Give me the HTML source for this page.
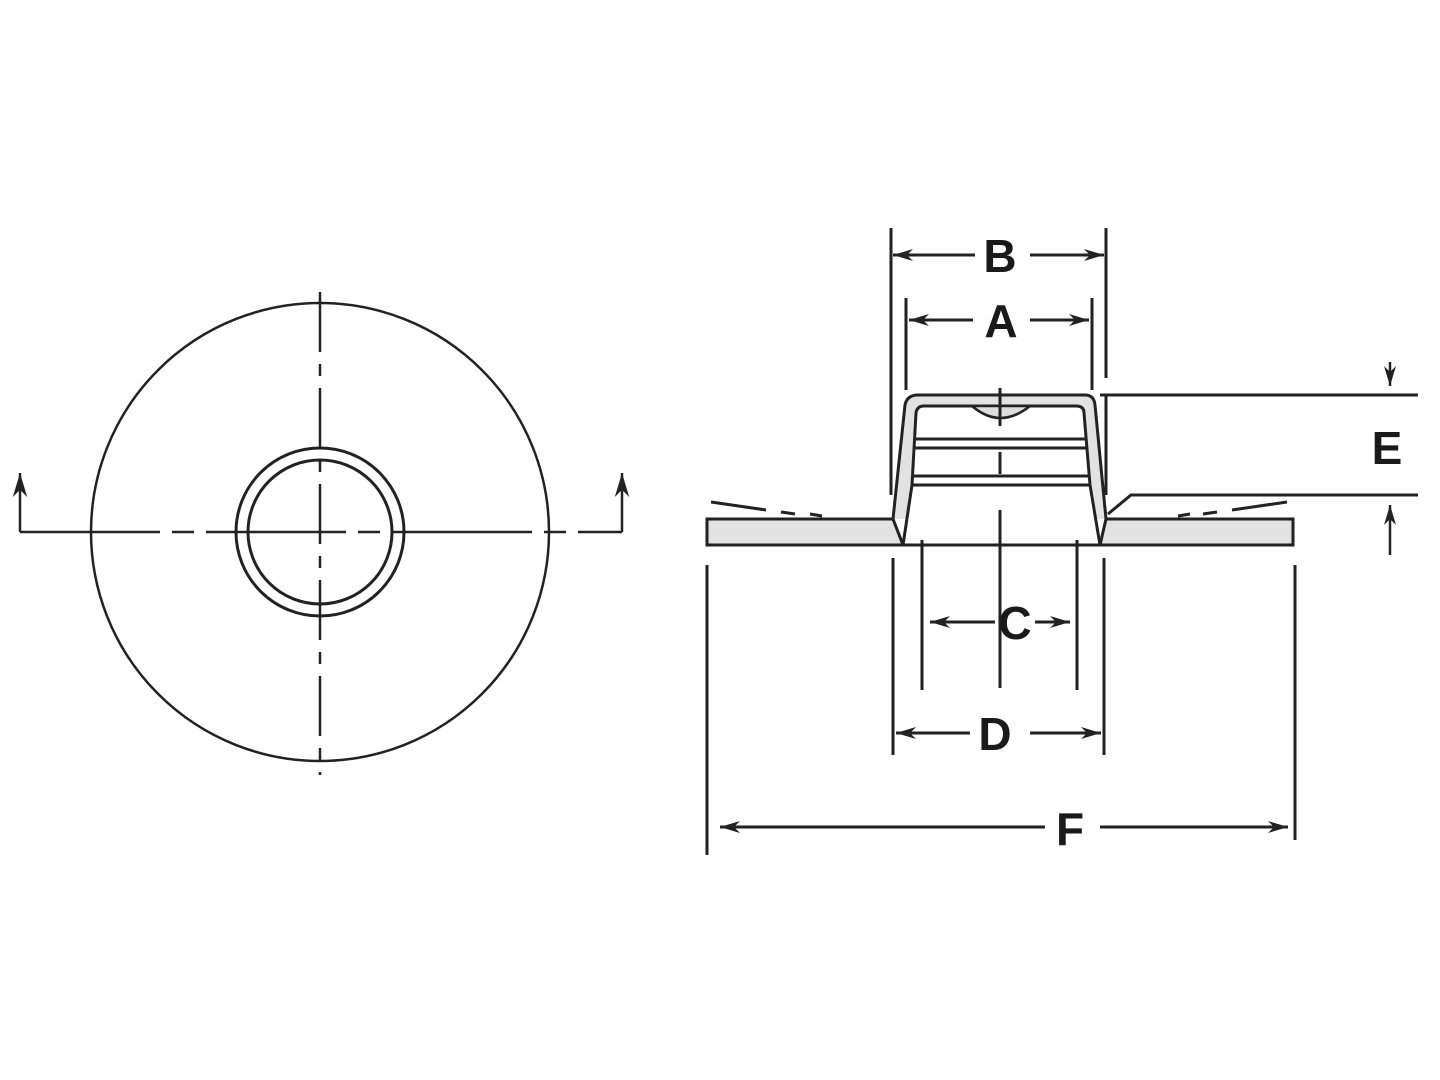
<!DOCTYPE html>
<html><head><style>
html,body{margin:0;padding:0;background:#fff;}
svg{display:block;}
text{font-family:"Liberation Sans",sans-serif;font-weight:bold;font-size:46px;fill:#1a1a1a;}
</style></head><body>
<svg width="1440" height="1080" viewBox="0 0 1440 1080" xmlns="http://www.w3.org/2000/svg">
<defs>
<marker id="ar" viewBox="0 0 10 10" refX="10" refY="5" markerWidth="20" markerHeight="20" orient="auto-start-reverse" markerUnits="userSpaceOnUse">
<path d="M0,2 L10,5 L0,8 L3,5 z" fill="#222"/>
</marker>
<marker id="ar2" viewBox="0 0 10 10" refX="10" refY="5" markerWidth="24" markerHeight="24" orient="auto" markerUnits="userSpaceOnUse">
<path d="M0,2 L10,5 L0,8 L3,5 z" fill="#222"/>
</marker>
</defs>
<g stroke="#222" fill="none" stroke-width="2">
<circle cx="320" cy="532" r="229" stroke-width="2.5"/>
<circle cx="320" cy="532" r="84" stroke-width="3"/>
<circle cx="320" cy="532" r="72" stroke-width="3"/>
<line x1="320" y1="292" x2="320" y2="775" stroke-width="2.5" stroke-dasharray="60,12,12,12"/>
<line x1="20" y1="532" x2="622" y2="532" stroke-width="2.5" stroke-dasharray="140,12,22,12"/>
<line x1="20" y1="532" x2="20" y2="473" stroke-width="2.5" marker-end="url(#ar2)"/>
<line x1="622" y1="532" x2="622" y2="473" stroke-width="2.5" marker-end="url(#ar2)"/>

<path d="M707,519 L893,519 L903,545 L707,545 Z" fill="#e2e2e2" stroke-width="3"/>
<path d="M1106,519 L1293,519 L1293,545 L1100,545 Z" fill="#e2e2e2" stroke-width="3"/>
<path d="M893,519 L905,405 Q907,395 918,395 L1085,395 Q1094,395 1095,405 L1106,519" fill="#e2e2e2" stroke-width="3"/>
<path d="M903,545 L912,485 L916,413 Q917,406 924,406 L1076,406 Q1084,406 1084,413 L1090,485 L1100,545 Z" fill="#fff" stroke-width="3"/>
<path d="M972,406 Q1000,430 1030,406 Z" fill="#ddd" stroke-width="2.5"/>
<line x1="914" y1="439" x2="1086" y2="439" stroke-width="3"/>
<line x1="914" y1="448" x2="1086" y2="448" stroke-width="3"/>
<line x1="912" y1="476" x2="1088" y2="476" stroke-width="3"/>
<line x1="912" y1="485" x2="1090" y2="485" stroke-width="3"/>
<line x1="1000" y1="388" x2="1000" y2="426" stroke-width="3"/>
<line x1="1000" y1="452" x2="1000" y2="474" stroke-width="3"/>
<line x1="1000" y1="510" x2="1000" y2="688" stroke-width="3"/>
<path d="M711,502 L766,510 M781,512 L795,514 M810,514 L822,516" stroke-width="3"/>
<path d="M1287,502 L1232,510 M1217,512 L1203,514 M1190,514 L1178,516" stroke-width="3"/>
<line x1="891" y1="228" x2="891" y2="495" stroke-width="3"/>
<line x1="1106" y1="228" x2="1106" y2="378" stroke-width="3"/>
<line x1="1106" y1="395" x2="1106" y2="495" stroke-width="3"/>
<line x1="906" y1="298" x2="906" y2="390" stroke-width="3"/>
<line x1="1092" y1="298" x2="1092" y2="390" stroke-width="3"/>
<line x1="975" y1="255" x2="893" y2="255" stroke-width="3" marker-end="url(#ar)"/>
<line x1="1030" y1="255" x2="1104" y2="255" stroke-width="3" marker-end="url(#ar)"/>
<line x1="973" y1="320" x2="909" y2="320" stroke-width="3" marker-end="url(#ar)"/>
<line x1="1030" y1="320" x2="1089" y2="320" stroke-width="3" marker-end="url(#ar)"/>
<line x1="1100" y1="395" x2="1418" y2="395" stroke-width="3"/>
<path d="M1108,514 L1131,495 L1418,495" stroke-width="3"/>
<line x1="1390" y1="362" x2="1390" y2="386" stroke-width="2.5" marker-end="url(#ar)"/>
<line x1="1390" y1="555" x2="1390" y2="505" stroke-width="2.5" marker-end="url(#ar)"/>
<line x1="922" y1="540" x2="922" y2="690" stroke-width="3"/>
<line x1="1077" y1="540" x2="1077" y2="690" stroke-width="3"/>
<line x1="893" y1="558" x2="893" y2="755" stroke-width="3"/>
<line x1="1104" y1="558" x2="1104" y2="755" stroke-width="3"/>
<line x1="707" y1="565" x2="707" y2="855" stroke-width="3"/>
<line x1="1295" y1="565" x2="1295" y2="840" stroke-width="3"/>
<line x1="995" y1="622" x2="930" y2="622" stroke-width="3" marker-end="url(#ar)"/>
<line x1="1035" y1="622" x2="1070" y2="622" stroke-width="3" marker-end="url(#ar)"/>
<line x1="970" y1="733" x2="896" y2="733" stroke-width="3" marker-end="url(#ar)"/>
<line x1="1030" y1="733" x2="1101" y2="733" stroke-width="3" marker-end="url(#ar)"/>
<line x1="1045" y1="827" x2="720" y2="827" stroke-width="3" marker-end="url(#ar)"/>
<line x1="1100" y1="827" x2="1288" y2="827" stroke-width="3" marker-end="url(#ar)"/>
</g>
<text x="1000" y="272" text-anchor="middle">B</text>
<text x="1001" y="337" text-anchor="middle">A</text>
<text x="1015" y="639" text-anchor="middle">C</text>
<text x="995" y="750" text-anchor="middle">D</text>
<text x="1070" y="845" text-anchor="middle">F</text>
<text x="1387" y="464" text-anchor="middle">E</text>
</svg>
</body></html>
